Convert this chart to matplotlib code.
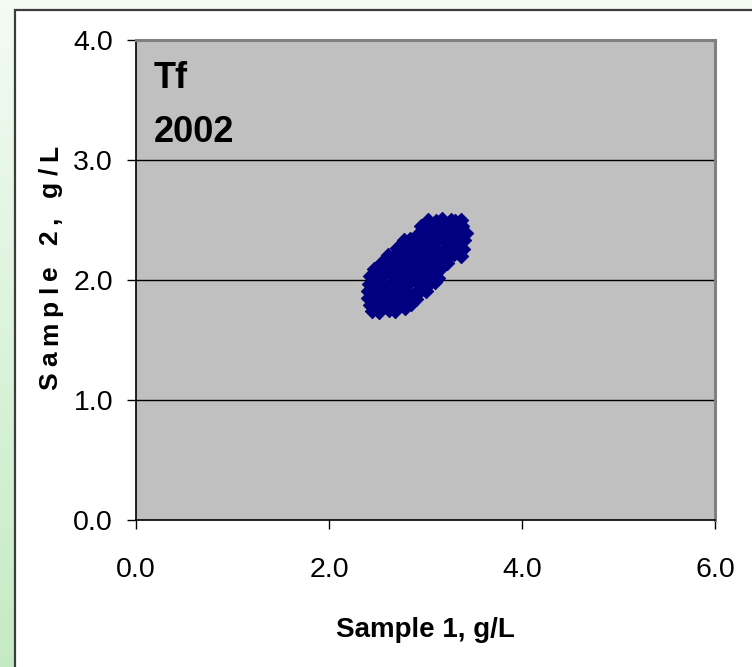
import numpy as np
import matplotlib.pyplot as plt
from matplotlib.patches import Rectangle
from matplotlib.font_manager import FontProperties

plt.rcParams['font.family'] = ['Liberation Sans', 'DejaVu Sans']

# scatter values (g/L)
sample1 = [
    3.03, 3.11, 3.17, 3.26, 3.31, 3.37,
    2.95, 3.01, 3.09, 3.15, 3.24, 3.29, 3.38,
    2.93, 2.99, 3.08, 3.13, 3.22, 3.27, 3.35, 3.42,
    2.78, 2.84, 2.92, 2.97, 3.06, 3.11, 3.20, 3.25, 3.34, 3.40,
    2.70, 2.78, 2.83, 2.92, 2.97, 3.06, 3.11, 3.20, 3.25, 3.34, 3.39,
    2.61, 2.69, 2.74, 2.83, 2.88, 2.97, 3.02, 3.11, 3.16, 3.25, 3.30, 3.37,
    2.55, 2.63, 2.68, 2.77, 2.82, 2.91, 2.96, 3.05, 3.10, 3.18, 3.22,
    2.47, 2.55, 2.60, 2.69, 2.74, 2.83, 2.88, 2.97, 3.02, 3.10, 3.16,
    2.43, 2.51, 2.56, 2.65, 2.70, 2.79, 2.84, 2.93, 2.98, 3.07, 3.13,
    2.41, 2.49, 2.54, 2.63, 2.68, 2.77, 2.82, 2.91, 2.96, 3.04, 3.10,
    2.40, 2.48, 2.53, 2.62, 2.67, 2.76, 2.81, 2.90, 2.95, 3.01,
    2.40, 2.47, 2.55, 2.60, 2.69, 2.74, 2.83, 2.86, 2.90,
    2.42, 2.50, 2.55, 2.64, 2.69, 2.78, 2.85,
    2.45, 2.52, 2.62, 2.68, 2.79,
]
sample2 = [
    2.50, 2.49, 2.51, 2.50, 2.49, 2.50,
    2.45, 2.44, 2.46, 2.45, 2.44, 2.46, 2.45,
    2.39, 2.40, 2.38, 2.40, 2.39, 2.38, 2.40, 2.39,
    2.33, 2.34, 2.32, 2.33, 2.34, 2.32, 2.33, 2.34, 2.32, 2.33,
    2.27, 2.26, 2.28, 2.27, 2.26, 2.28, 2.27, 2.26, 2.28, 2.27, 2.26,
    2.21, 2.22, 2.20, 2.21, 2.22, 2.20, 2.21, 2.22, 2.20, 2.21, 2.22, 2.20,
    2.15, 2.14, 2.16, 2.15, 2.14, 2.16, 2.15, 2.14, 2.16, 2.15, 2.14,
    2.09, 2.10, 2.08, 2.09, 2.10, 2.08, 2.09, 2.10, 2.08, 2.09, 2.10,
    2.03, 2.02, 2.04, 2.03, 2.02, 2.04, 2.03, 2.02, 2.04, 2.03, 2.02,
    1.97, 1.98, 1.96, 1.97, 1.98, 1.96, 1.97, 1.98, 1.96, 1.97, 1.98,
    1.91, 1.90, 1.92, 1.91, 1.90, 1.92, 1.91, 1.90, 1.92, 1.91,
    1.85, 1.86, 1.84, 1.85, 1.86, 1.84, 1.85, 1.86, 1.84,
    1.79, 1.78, 1.80, 1.79, 1.78, 1.79, 1.80,
    1.74, 1.73, 1.75, 1.74, 1.77,
]
xticks = [0.0, 2.0, 4.0, 6.0]
yticks = [0.0, 1.0, 2.0, 3.0, 4.0]
xlabel = 'Sample 1, g/L'
ylabel = 'Sample 2, g/L'
title_lines = ['Tf', '2002']

W, H = 752, 667
fig = plt.figure(figsize=(W / 100, H / 100), dpi=100)

## slide background: pale green gradient + white panel
bg = fig.add_axes([0, 0, 1, 1], zorder=-10)
grad = np.linspace(0, 1, 256).reshape(-1, 1)
top_c = np.array([0.955, 0.985, 0.955])
bot_c = np.array([0.77, 0.92, 0.77])
img = top_c + (bot_c - top_c) * grad[:, :, None]
bg.imshow(img, aspect='auto', extent=[0, 1, 0, 1], origin='upper')
bg.add_patch(Rectangle((15 / W, -0.05), 1.1, 1 - 10 / H + 0.05, facecolor='white',
                       edgecolor='#3c3c3c', linewidth=1.6, transform=bg.transAxes))
bg.set_xlim(0, 1)
bg.set_ylim(0, 1)
bg.axis('off')

## main plot area
ax = fig.add_axes([136 / W, 1 - 520 / H, 579 / W, 480 / H])
ax.set_facecolor('#c0c0c0')
ax.scatter(sample1, sample2, marker='D', s=52, color='#000080', edgecolor='#000080',
           linewidth=0.8, zorder=3)

ax.set_xlim(0, 6)
ax.set_ylim(0, 4)
ax.set_xticks(xticks)
ax.set_yticks(yticks)
ax.set_xticklabels([f'{v:.1f}' for v in xticks])
ax.set_yticklabels([f'{v:.1f}' for v in yticks])
for v in yticks[1:-1]:
    ax.axhline(v, color='black', linewidth=1.0, zorder=1)

ax.tick_params(axis='x', direction='out', length=6.5, width=1, pad=20, labelsize=20.5)
ax.tick_params(axis='y', direction='out', length=6.5, width=1, pad=10, labelsize=20.5)
for side in ['left', 'bottom']:
    ax.spines[side].set_color('black')
    ax.spines[side].set_linewidth(1.2)
for side in ['top', 'right']:
    ax.spines[side].set_color('#808080')
    ax.spines[side].set_linewidth(2.2)

ax.text(0.18, 3.6, title_lines[0], fontsize=26, fontweight='bold', va='baseline')
ax.text(0.18, 3.15, title_lines[1], fontsize=26, fontweight='bold', va='baseline')

## axis labels
fig.text(425 / W, 1 - 637 / H, xlabel, fontsize=20, fontweight='bold',
         ha='center', va='baseline')

# y label is letter-spaced in the original, place characters one by one
ysize = 19
fp = FontProperties(family='Liberation Sans', weight='bold', size=ysize)
renderer = fig.canvas.get_renderer()
widths = []
for c in ylabel:
    if c == ' ':
        widths.append(0.278 * ysize * 100 / 72)
    else:
        widths.append(renderer.get_text_width_height_descent(c, fp, ismath=False)[0])
track = (245 - sum(widths)) / (len(ylabel) - 1)
ypix = (H - 390)
for c, w in zip(ylabel, widths):
    if c != ' ':
        fig.text(57 / W, (ypix + w / 2) / H, c, fontproperties=fp, rotation=90,
                 rotation_mode='anchor', ha='center', va='baseline')
    ypix += w + track

fig.savefig('out.png', dpi=100)
